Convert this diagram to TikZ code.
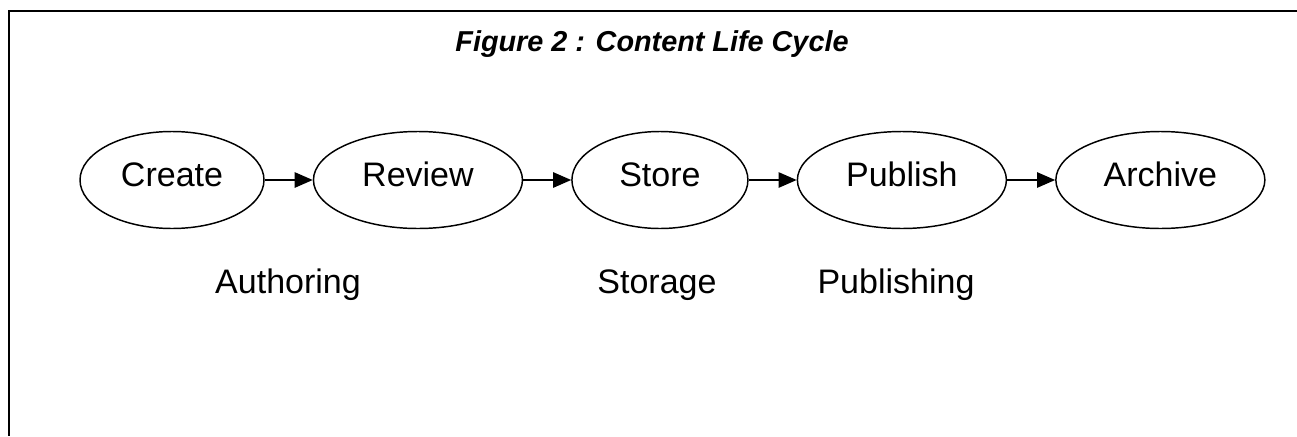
\documentclass[tikz,border=0pt]{standalone}
\usepackage{fontspec}
\setmainfont{Liberation Sans}
\usetikzlibrary{arrows.meta,positioning,shapes.geometric}

\begin{document}
\begin{tikzpicture}[->,>={Triangle[length=13.5pt,width=11.5pt]},node distance=36pt,
      x=0.75pt,y=0.75pt,line width=1.1pt,
      phase/.style={ellipse,draw,minimum height=72.75pt,inner sep=0pt,
        text height=18pt,text depth=9pt,font=\fontsize{25.5}{30}\selectfont},
      stage/.style={anchor=base,font=\fontsize{25.5}{30}\selectfont}]
      \useasboundingbox (0,0) rectangle (1297,-436);
      % frame, open on the right and at the bottom
      \coordinate (tr) at (1297,-11);
      \coordinate (tl) at (8.5,-11);
      \coordinate (bl) at (8.5,-436);
      \draw[-,line width=1.5pt] (tr) -- (tl) -- (bl);
      \node[anchor=base,font=\fontsize{21.6}{26}\selectfont\bfseries\itshape] (title)
        at (652,-51) {Figure 2 : Content Life Cycle};
			\node[phase,minimum width=138pt] (create) at (172,-180) {Create};
			\node[phase,minimum width=156.75pt] (review) [right=of create] {Review};
			\node[phase,minimum width=132pt] (store) [right=of review] {Store};
			\node[phase,minimum width=156.75pt] (publish) [right=of store] {Publish};
			\node[phase,minimum width=156.75pt] (archive) [right=of publish] {Archive};
      \node[stage] (authoring) at (288,-293) {Authoring};
      \node[stage] (storage) at (657,-293) {Storage};
      \node[stage] (publishing) at (896,-293) {Publishing};
			\path
        (create) edge (review)
        (review) edge (store)
        (store) edge (publish)
        (publish) edge (archive);
		\end{tikzpicture}
\end{document}
